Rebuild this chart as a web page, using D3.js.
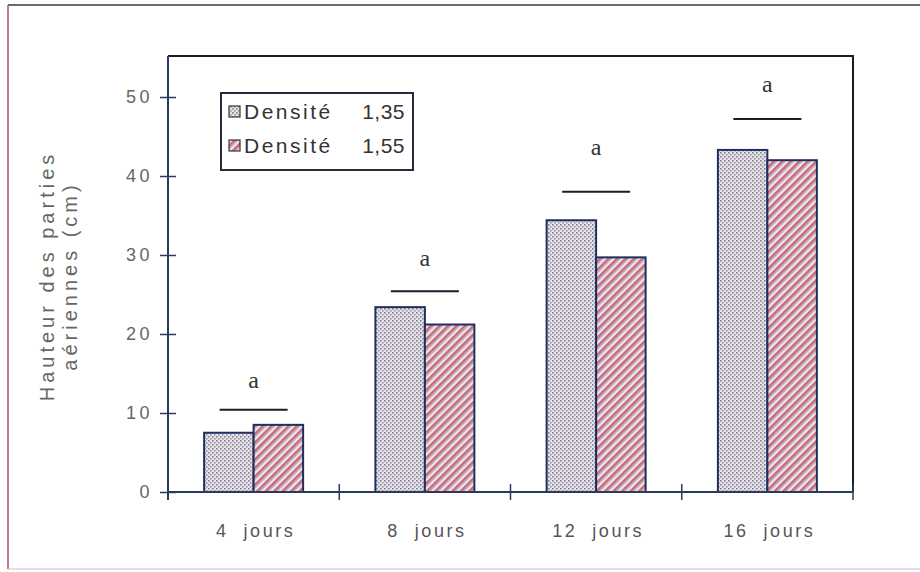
<!DOCTYPE html>
<html><head><meta charset="utf-8">
<script src="https://cdn.jsdelivr.net/npm/d3@7"></script>
<style>body{margin:0;background:#fff}svg{display:block}</style>
</head><body>
<svg id="c" width="920" height="572"></svg>
<script>
const categories = ["4 jours", "8 jours", "12 jours", "16 jours"];
const seriesNames = ["Densité 1,35", "Densité 1,55"];
const density135 = [7.5, 23.4, 34.4, 43.3];
const density155 = [8.5, 21.2, 29.7, 42.0];
const sigLetters = ["a", "a", "a", "a"];
const sigLineValues = [10.4, 25.4, 38.0, 47.2];
const sigLetterValues = [13.2, 28.6, 42.7, 50.6];
const yTicks = [0, 10, 20, 30, 40, 50];
const yTitle = ["Hauteur des parties", "aériennes (cm)"];

const svg = d3.select("#c");
const L = 168, R = 853, T = 56, B = 492;
const FONT = "Liberation Sans, Arial, Helvetica, sans-serif";

const defs = svg.append("defs");
const p1 = defs.append("pattern").attr("id","dots").attr("patternUnits","userSpaceOnUse").attr("width",4).attr("height",4);
p1.append("rect").attr("width",4).attr("height",4).attr("fill","#e4e3e8");
p1.append("rect").attr("x",0).attr("y",0).attr("width",1.6).attr("height",1.6).attr("fill","#7d7f98");
p1.append("rect").attr("x",2).attr("y",2).attr("width",1.6).attr("height",1.6).attr("fill","#a68fa0");
const p2 = defs.append("pattern").attr("id","hatch").attr("patternUnits","userSpaceOnUse").attr("width",6).attr("height",6).attr("patternTransform","rotate(45)");
p2.append("rect").attr("width",6).attr("height",6).attr("fill","#f1e4e8");
p2.append("rect").attr("x",0).attr("y",0).attr("width",2.6).attr("height",6).attr("fill","#d06878");
p2.append("rect").attr("x",2.6).attr("y",0).attr("width",0.9).attr("height",6).attr("fill","#8f96b4");

// outer frame
svg.append("line").attr("x1",8).attr("x2",920).attr("y1",5).attr("y2",5).attr("stroke","#3a3a4a").attr("stroke-width",1.5);
svg.append("line").attr("x1",8).attr("x2",8).attr("y1",5).attr("y2",569).attr("stroke","#a84e6a").attr("stroke-width",1.5);
svg.append("line").attr("x1",8).attr("x2",920).attr("y1",569).attr("y2",569).attr("stroke","#c0c0cc").attr("stroke-width",1);

const y = d3.scaleLinear().domain([0, (B - T) / 7.9]).range([B, T]);
const x0 = d3.scaleBand().domain(categories).range([L, R]).padding(0);
const x1 = d3.scaleBand().domain(seriesNames).range([0, x0.bandwidth()]).paddingInner(0).paddingOuter(0.73);

// plot frame top/right
svg.append("path").attr("d",`M${L},${T}H${R}V${B}`).attr("fill","none").attr("stroke","#1c1c2c").attr("stroke-width",2);

const fills = ["url(#dots)", "url(#hatch)"];
const data = categories.map((c,i)=>({c, vals:[density135[i], density155[i]]}));
const g = svg.append("g");
data.forEach(d=>{
  d.vals.forEach((v,j)=>{
    g.append("rect")
      .attr("x", x0(d.c) + x1(seriesNames[j]))
      .attr("y", y(v))
      .attr("width", x1.bandwidth())
      .attr("height", y(0) - y(v))
      .attr("fill", fills[j])
      .attr("stroke", "#1f3060").attr("stroke-width", 2);
  });
});

// significance lines and letters
categories.forEach((c,i)=>{
  const cx = x0(c) + x0.bandwidth()/2;
  svg.append("line").attr("x1", cx-34).attr("x2", cx+34).attr("y1", y(sigLineValues[i])).attr("y2", y(sigLineValues[i]))
    .attr("stroke","#1c1c2c").attr("stroke-width",2);
  svg.append("text").attr("x", cx).attr("y", y(sigLetterValues[i])).attr("text-anchor","middle")
    .attr("font-family","Liberation Serif, Times New Roman, serif").attr("font-size",24).attr("fill","#333").text(sigLetters[i]);
});

// y axis
const yAxis = d3.axisLeft(y).tickValues(yTicks).tickFormat(d3.format("d")).tickSizeInner(8).tickSizeOuter(0).tickPadding(7);
const ya = svg.append("g").attr("transform",`translate(${L},0)`).call(yAxis);
ya.select(".domain").attr("stroke","#2a3a60").attr("stroke-width",2).attr("d",`M0,${T}V${B+8}`);
ya.selectAll(".tick line").attr("x1",-8).attr("x2",8).attr("stroke","#2a3a60").attr("stroke-width",1.5);
ya.selectAll(".tick text").attr("font-family",FONT).attr("font-size",18)
  .attr("fill","#666").attr("letter-spacing","3.5px");

// x axis
const xa = svg.append("g");
xa.append("line").attr("x1",L).attr("x2",R).attr("y1",B).attr("y2",B).attr("stroke","#2a3a60").attr("stroke-width",2);
const bounds = categories.map(c=>x0(c)).concat([x0.range()[1]]);
bounds.forEach(bx=>{
  xa.append("line").attr("x1",bx).attr("x2",bx).attr("y1",B-8).attr("y2",B+8).attr("stroke","#2a3a60").attr("stroke-width",1.5);
});
categories.forEach(c=>{
  const parts = c.split(" ");
  xa.append("text").attr("x", x0(c)+x0.bandwidth()/2 + 2).attr("y", 537).attr("text-anchor","middle")
    .attr("font-family",FONT).attr("font-size",18).attr("fill","#555").attr("letter-spacing","2.5px")
    .style("white-space","pre").text(parts[0] + "  " + parts[1]);
});

// y title
const yt = svg.append("text").attr("transform","translate(58,276) rotate(-90)").attr("text-anchor","middle")
  .attr("font-family",FONT).attr("font-size",20).attr("fill","#666").attr("letter-spacing","4px");
yTitle.forEach((t,i)=>yt.append("tspan").attr("x",0).attr("dy", i===0 ? -4 : 23).text(t));

// legend
const lg = svg.append("g");
lg.append("rect").attr("x",221).attr("y",93).attr("width",192).attr("height",77).attr("fill","#fff").attr("stroke","#2a2a3a").attr("stroke-width",2);
seriesNames.forEach((s,i)=>{
  const yy = 106 + i*34;
  const parts = s.split(" ");
  lg.append("rect").attr("x",229).attr("y",yy).attr("width",11).attr("height",11).attr("fill",fills[i]).attr("stroke","#333").attr("stroke-width",1.2);
  lg.append("text").attr("x",244).attr("y",yy+13).attr("font-family",FONT).attr("font-size",21)
    .attr("fill","#333").attr("letter-spacing","2.5px").text(parts[0]);
  lg.append("text").attr("x",405).attr("y",yy+13).attr("text-anchor","end").attr("font-family",FONT).attr("font-size",21)
    .attr("fill","#333").attr("letter-spacing","0.5px").text(parts[1]);
});
</script>
</body></html>
